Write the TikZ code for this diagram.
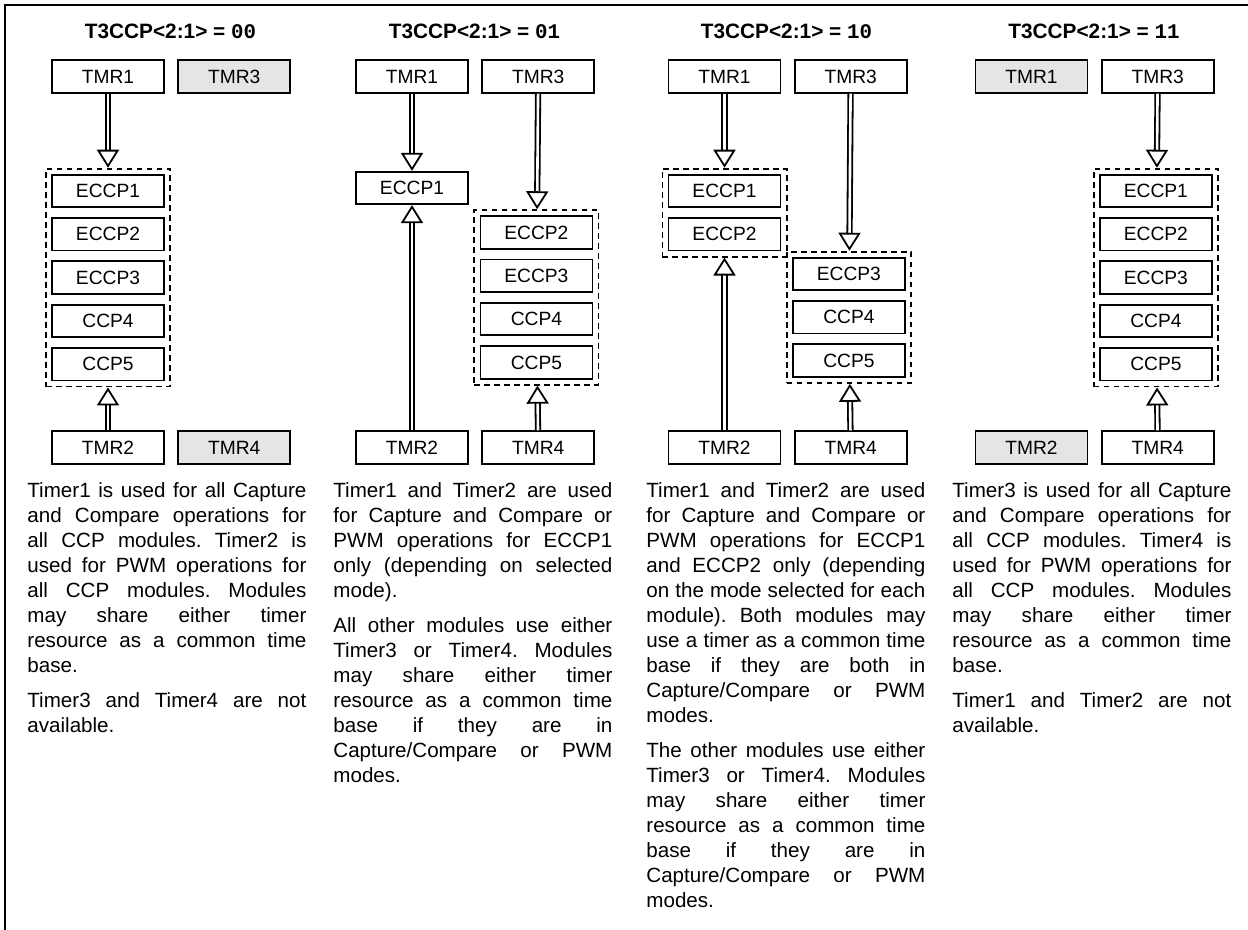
\documentclass[tikz,border=0pt]{standalone}
\usepackage{fontspec}
\setmainfont{Liberation Sans}
\setmonofont{Liberation Mono}
\usetikzlibrary{arrows.meta,positioning,fit}
\tolerance=10000
\hyphenpenalty=10000
\frenchspacing

\begin{document}
\begin{tikzpicture}[
    x=0.5pt, y=-0.5pt,
    font=\fontsize{9.6}{11}\selectfont,
    tmr/.style={draw, line width=0.9pt, minimum width=56pt, minimum height=16.25pt, inner sep=0pt},
    off/.style={tmr, fill=gray!20},
    mod/.style={tmr},
    grp/.style={draw, line width=0.9pt, dash pattern=on 2.8pt off 2.2pt, inner sep=2.6pt},
    ttl/.style={font=\fontsize{10.4}{12}\selectfont\bfseries},
    desc/.style={anchor=north west, inner sep=0pt, text width=139.5pt, align=justify,
                 font=\fontsize{10.3}{12.5}\selectfont},
    tarr/.style={double, double distance=1.3pt, line width=0.9pt,
                 -{Triangle[open, length=9pt, width=11pt]}}
]
  \useasboundingbox (0,0) rectangle (1248,930);
  \draw[line width=1pt] (5,930) -- (5,5) -- (1248,5);

  % T3CCP<2:1> = 00
  \node[ttl] (ttla) at (170.5,31.5) {T3CCP<2:1> = {\ttfamily 00}};
  \node[tmr] (tmr1a) at (108,76.5) {TMR1};
  \node[off, right=6.2pt of tmr1a] (tmr3a) {TMR3};
  \node[mod] (ccp1a) at (108,191) {ECCP1};
  \node[mod, below=4.5pt of ccp1a] (ccp2a) {ECCP2};
  \node[mod, below=4.5pt of ccp2a] (ccp3a) {ECCP3};
  \node[mod, below=4.5pt of ccp3a] (ccp4a) {CCP4};
  \node[mod, below=4.5pt of ccp4a] (ccp5a) {CCP5};
  \node[tmr] (tmr2a) at (108,447.5) {TMR2};
  \node[off, right=6.2pt of tmr2a] (tmr4a) {TMR4};
  \node[grp, fit=(ccp1a)(ccp5a)] (grpa) {};
  \draw[tarr] (tmr1a) -- (grpa);
  \draw[tarr] (tmr2a) -- (grpa);
  \node[desc] (txta) at (27,482) {Timer1 is used for all Capture\linebreak
    and Compare operations for\linebreak
    all CCP modules. Timer2 is\linebreak
    used for PWM operations for\linebreak
    all CCP modules. Modules\linebreak
    may share either timer\linebreak
    resource as a common time\linebreak
    base.\par\vspace{5pt}
    Timer3 and Timer4 are not\linebreak
    available.};

  % T3CCP<2:1> = 01
  \node[ttl] (ttlb) at (474.5,31.5) {T3CCP<2:1> = {\ttfamily 01}};
  \node[tmr] (tmr1b) at (412,76.5) {TMR1};
  \node[tmr, right=6.2pt of tmr1b] (tmr3b) {TMR3};
  \node[mod] (ccp1b) at (412,188) {ECCP1};
  \node[mod] (ccp2b) at (536.4,232.5) {ECCP2};
  \node[mod, below=4.5pt of ccp2b] (ccp3b) {ECCP3};
  \node[mod, below=4.5pt of ccp3b] (ccp4b) {CCP4};
  \node[mod, below=4.5pt of ccp4b] (ccp5b) {CCP5};
  \node[tmr] (tmr2b) at (412,447.5) {TMR2};
  \node[tmr, right=6.2pt of tmr2b] (tmr4b) {TMR4};
  \node[grp, fit=(ccp2b)(ccp5b)] (grpb) {};
  \draw[tarr] (tmr1b) -- (ccp1b);
  \draw[tarr] (tmr2b) -- (ccp1b);
  \draw[tarr] (tmr3b) -- (grpb);
  \draw[tarr] (tmr4b) -- (grpb);
  \node[desc] (txtb) at (333,482) {Timer1 and Timer2 are used\linebreak
    for Capture and Compare or\linebreak
    PWM operations for ECCP1\linebreak
    only (depending on selected\linebreak
    mode).\par\vspace{5pt}
    All other modules use either\linebreak
    Timer3 or Timer4. Modules\linebreak
    may share either timer\linebreak
    resource as a common time\linebreak
    base if they are in\linebreak
    Capture/Compare or PWM\linebreak
    modes.};

  % T3CCP<2:1> = 10
  \node[ttl] (ttlc) at (786.5,31.5) {T3CCP<2:1> = {\ttfamily 10}};
  \node[tmr] (tmr1c) at (724.5,76.5) {TMR1};
  \node[tmr, right=6.2pt of tmr1c] (tmr3c) {TMR3};
  \node[mod] (ccp1c) at (724.5,191) {ECCP1};
  \node[mod, below=4.5pt of ccp1c] (ccp2c) {ECCP2};
  \node[mod] (ccp3c) at (848.9,274) {ECCP3};
  \node[mod, below=4.5pt of ccp3c] (ccp4c) {CCP4};
  \node[mod, below=4.5pt of ccp4c] (ccp5c) {CCP5};
  \node[tmr] (tmr2c) at (724.5,447.5) {TMR2};
  \node[tmr, right=6.2pt of tmr2c] (tmr4c) {TMR4};
  \node[grp, fit=(ccp1c)(ccp2c)] (lgrpc) {};
  \node[grp, fit=(ccp3c)(ccp5c)] (rgrpc) {};
  \draw[tarr] (tmr1c) -- (lgrpc);
  \draw[tarr] (tmr2c) -- (lgrpc);
  \draw[tarr] (tmr3c) -- (rgrpc);
  \draw[tarr] (tmr4c) -- (rgrpc);
  \node[desc] (txtc) at (646,482) {Timer1 and Timer2 are used\linebreak
    for Capture and Compare or\linebreak
    PWM operations for ECCP1\linebreak
    and ECCP2 only (depending\linebreak
    on the mode selected for each\linebreak
    module). Both modules may\linebreak
    use a timer as a common time\linebreak
    base if they are both in\linebreak
    Capture/Compare or PWM\linebreak
    modes.\par\vspace{5pt}
    The other modules use either\linebreak
    Timer3 or Timer4. Modules\linebreak
    may share either timer\linebreak
    resource as a common time\linebreak
    base if they are in\linebreak
    Capture/Compare or PWM\linebreak
    modes.};

  % T3CCP<2:1> = 11
  \node[ttl] (ttld) at (1094,31.5) {T3CCP<2:1> = {\ttfamily 11}};
  \node[off] (tmr1d) at (1031.5,76.5) {TMR1};
  \node[tmr, right=6.2pt of tmr1d] (tmr3d) {TMR3};
  \node[mod] (ccp1d) at (1155.9,191) {ECCP1};
  \node[mod, below=4.5pt of ccp1d] (ccp2d) {ECCP2};
  \node[mod, below=4.5pt of ccp2d] (ccp3d) {ECCP3};
  \node[mod, below=4.5pt of ccp3d] (ccp4d) {CCP4};
  \node[mod, below=4.5pt of ccp4d] (ccp5d) {CCP5};
  \node[off] (tmr2d) at (1031.5,447.5) {TMR2};
  \node[tmr, right=6.2pt of tmr2d] (tmr4d) {TMR4};
  \node[grp, fit=(ccp1d)(ccp5d)] (grpd) {};
  \draw[tarr] (tmr3d) -- (grpd);
  \draw[tarr] (tmr4d) -- (grpd);
  \node[desc] (txtd) at (952,482) {Timer3 is used for all Capture\linebreak
    and Compare operations for\linebreak
    all CCP modules. Timer4 is\linebreak
    used for PWM operations for\linebreak
    all CCP modules. Modules\linebreak
    may share either timer\linebreak
    resource as a common time\linebreak
    base.\par\vspace{5pt}
    Timer1 and Timer2 are not\linebreak
    available.};
\end{tikzpicture}
\end{document}
